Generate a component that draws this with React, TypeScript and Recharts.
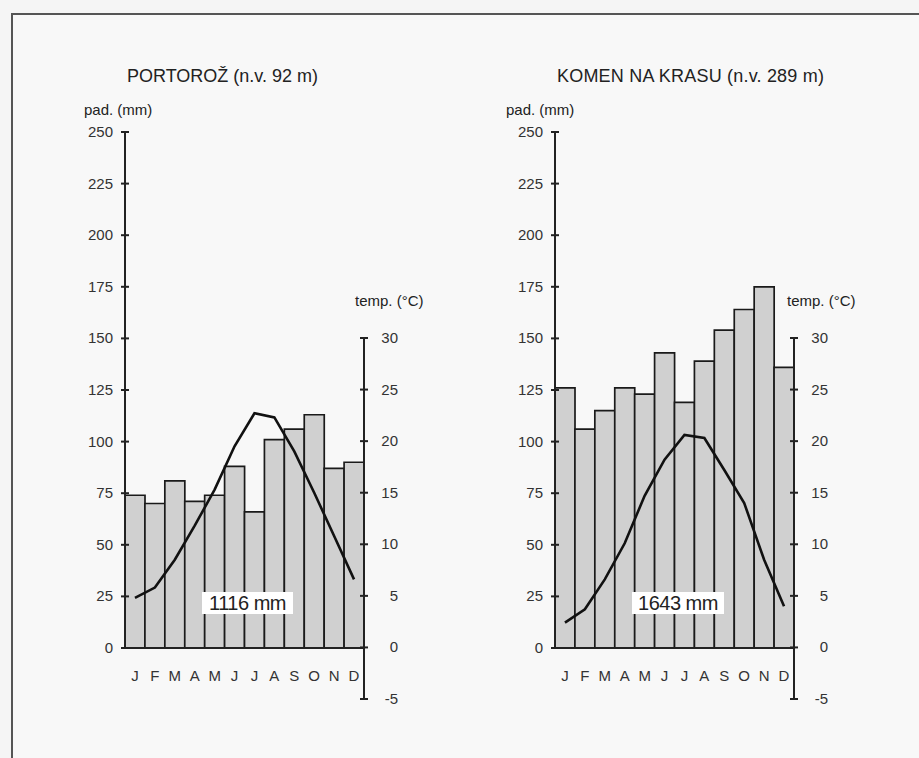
import React from "react";
import { ComposedChart, Bar, Line, XAxis, YAxis } from "recharts";

const months = ["J", "F", "M", "A", "M", "J", "J", "A", "S", "O", "N", "D"];

// Portorož
const portorozRain = [74, 70, 81, 71, 74, 88, 66, 101, 106, 113, 87, 90];
const portorozTemp = [4.8, 5.8, 8.5, 11.8, 15.3, 19.5, 22.7, 22.3, 19.0, 15.0, 10.8, 6.6];

// Komen na Krasu
const komenRain = [126, 106, 115, 126, 123, 143, 119, 139, 154, 164, 175, 136];
const komenTemp = [2.4, 3.7, 6.6, 10.1, 14.7, 18.2, 20.6, 20.3, 17.2, 14.0, 8.5, 4.0];

const rainTicks = [0, 25, 50, 75, 100, 125, 150, 175, 200, 225, 250];
const tempTicks = [-5, 0, 5, 10, 15, 20, 25, 30];

const FONT = "'Liberation Sans', Arial, sans-serif";
const INK = "#222";
const W = 460;
const H = 758;

type Station = {
  title: string;
  total: string;
  rain: number[];
  temp: number[];
};

const stations: Station[] = [
  { title: "PORTOROŽ (n.v. 92 m)", total: "1116 mm", rain: portorozRain, temp: portorozTemp },
  { title: "KOMEN NA KRASU (n.v. 289 m)", total: "1643 mm", rain: komenRain, temp: komenTemp },
];

// tick marks cross the axis line, like in the original
const RainTick = (props: any) => {
  const { x, y, payload } = props;
  return (
    <g>
      <line x1={x - 4} x2={x + 4} y1={y} y2={y} stroke={INK} strokeWidth={2} />
      <text x={x - 12} y={y} dy={5} textAnchor="end" fontSize={15} fill="#333" fontFamily={FONT}>
        {payload.value}
      </text>
    </g>
  );
};

const TempTick = (props: any) => {
  const { x, y, payload } = props;
  return (
    <g>
      <line x1={x - 4} x2={x + 4} y1={y} y2={y} stroke={INK} strokeWidth={2} />
      <text x={x + 34} y={y} dy={5} textAnchor="end" fontSize={15} fill="#333" fontFamily={FONT}>
        {payload.value}
      </text>
    </g>
  );
};

const MonthTick = (props: any) => {
  const { x, y, payload } = props;
  return (
    <text x={x} y={y + 28} dy={5} textAnchor="middle" fontSize={15} fill="#333" fontFamily={FONT}>
      {months[payload.value]}
    </text>
  );
};

const ClimateChart = ({ station, left }: { station: Station; left: number }) => {
  const data = months.map((m, i) => ({
    idx: i,
    m,
    rain: station.rain[i],
    temp: station.temp[i],
  }));
  const layer: React.CSSProperties = { position: "absolute", left: 0, top: 0 };
  return (
    <div style={{ position: "absolute", left, top: 0, width: W, height: H }}>
      {/* precipitation: 0–250 mm */}
      <div style={layer}>
        <ComposedChart
          width={W}
          height={H}
          data={data}
          margin={{ top: 132, right: 96, bottom: 70, left: 65 }}
          barCategoryGap={0}
          barGap={0}
        >
          <XAxis
            dataKey="idx"
            type="category"
            height={40}
            axisLine={{ stroke: INK, strokeWidth: 2 }}
            tickLine={false}
            tickSize={0}
            tickMargin={0}
            interval={0}
            tick={<MonthTick />}
          />
          <YAxis
            width={60}
            domain={[0, 250]}
            ticks={rainTicks}
            axisLine={{ stroke: INK, strokeWidth: 2 }}
            tickLine={false}
            tickSize={0}
            tickMargin={0}
            interval={0}
            tick={<RainTick />}
          />
          <Bar
            dataKey="rain"
            fill="#d0d0d0"
            stroke="#1a1a1a"
            strokeWidth={1.7}
            isAnimationActive={false}
          />
        </ComposedChart>
      </div>
      {/* temperature: -5–30 °C, same scale as the bars (5 °C = 25 mm) */}
      <div style={layer}>
        <ComposedChart
          width={W}
          height={H}
          data={data}
          margin={{ top: 338, right: 36, bottom: 59, left: 125 }}
        >
          <XAxis dataKey="idx" type="category" scale="band" hide />
          <YAxis
            orientation="right"
            width={60}
            domain={[-5, 30]}
            ticks={tempTicks}
            axisLine={{ stroke: INK, strokeWidth: 2 }}
            tickLine={false}
            tickSize={0}
            tickMargin={0}
            interval={0}
            tick={<TempTick />}
          />
          <Line
            type="linear"
            dataKey="temp"
            stroke="#111"
            strokeWidth={2.6}
            dot={false}
            isAnimationActive={false}
          />
        </ComposedChart>
      </div>
    </div>
  );
};

const txt: React.CSSProperties = {
  position: "absolute",
  fontFamily: FONT,
  color: INK,
  whiteSpace: "nowrap",
  lineHeight: 1,
};

const totalBox: React.CSSProperties = {
  ...txt,
  top: 592,
  height: 22,
  background: "#fff",
  fontSize: 20,
  lineHeight: "22px",
  textAlign: "center",
  letterSpacing: -0.5,
};

export default function App() {
  return (
    <div
      style={{
        position: "absolute",
        left: 0,
        top: 0,
        width: 919,
        height: 758,
        background: "#f5f5f5",
        overflow: "hidden",
      }}
    >
      <div
        style={{
          position: "absolute",
          left: 11,
          top: 13,
          width: 940,
          height: 780,
          borderTop: "2px solid #555",
          borderLeft: "2px solid #555",
          background: "#f8f8f8",
        }}
      />
      <ClimateChart station={stations[0]} left={0} />
      <ClimateChart station={stations[1]} left={430} />

      <div style={{ ...txt, left: 127, top: 67, fontSize: 18 }}>{stations[0].title}</div>
      <div style={{ ...txt, left: 557, top: 67, fontSize: 18, letterSpacing: 0.2 }}>
        {stations[1].title}
      </div>

      <div style={{ ...txt, left: 84, top: 102, fontSize: 15 }}>pad. (mm)</div>
      <div style={{ ...txt, left: 506, top: 102, fontSize: 15 }}>pad. (mm)</div>
      <div style={{ ...txt, left: 355, top: 293, fontSize: 15 }}>temp. (°C)</div>
      <div style={{ ...txt, left: 787, top: 293, fontSize: 15 }}>temp. (°C)</div>

      <div style={{ ...totalBox, left: 202, width: 91 }}>{stations[0].total}</div>
      <div style={{ ...totalBox, left: 632, width: 92 }}>{stations[1].total}</div>
    </div>
  );
}
